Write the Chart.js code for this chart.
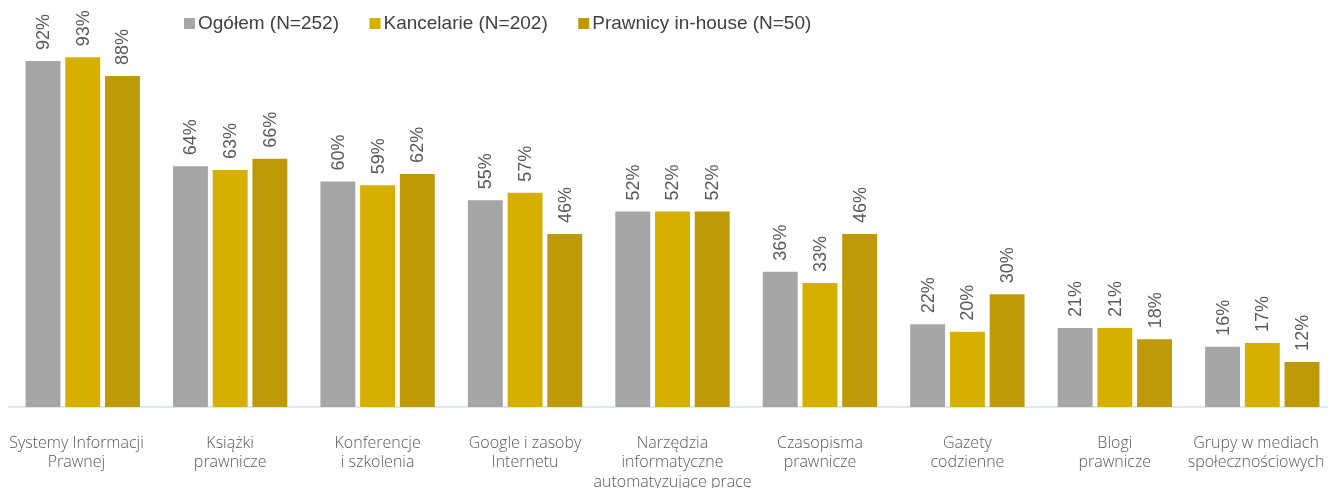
<!DOCTYPE html>
<html>
<head>
<meta charset="utf-8">
<script src="https://cdn.jsdelivr.net/npm/chart.js@4/dist/chart.umd.min.js"></script>
<style>
    html, body { margin: 0; padding: 0; overflow: hidden; background: #fff; }
    #wrap { width: 1340px; height: 488px; }
</style>
</head>
<body>
<div id="wrap"><canvas id="barChart" width="1340" height="488"></canvas></div>
<script>
const categories = [
    ['Systemy Informacji', 'Prawnej'],
    ['Książki', 'prawnicze'],
    ['Konferencje', 'i szkolenia'],
    ['Google i zasoby', 'Internetu'],
    ['Narzędzia', 'informatyczne', 'automatyzujące pracę'],
    ['Czasopisma', 'prawnicze'],
    ['Gazety', 'codzienne'],
    ['Blogi', 'prawnicze'],
    ['Grupy w mediach', 'społecznościowych']
];
const seriesNames = ['Ogółem (N=252)', 'Kancelarie (N=202)', 'Prawnicy in-house (N=50)'];
const ogolem = [92, 64, 60, 55, 52, 36, 22, 21, 16];
const kancelarie = [93, 63, 59, 57, 52, 33, 20, 21, 17];
const inhouse = [88, 66, 62, 46, 52, 46, 30, 18, 12];
const colors = ['#A6A6A6', '#D5B000', '#BF9A08'];

// value labels, rotated, above each bar
const valueLabels = {
    id: 'valueLabels',
    afterDatasetsDraw(chart) {
        const ctx = chart.ctx;
        ctx.save();
        ctx.font = '18px "Liberation Sans", Arial, sans-serif';
        ctx.fillStyle = '#595959';
        ctx.textAlign = 'left';
        ctx.textBaseline = 'middle';
        chart.data.datasets.forEach((ds, i) => {
            chart.getDatasetMeta(i).data.forEach((bar, j) => {
                ctx.save();
                ctx.translate(bar.x + 1, bar.y - 11);
                ctx.rotate(-Math.PI / 2);
                ctx.fillText(ds.data[j] + '%', 0, 0);
                ctx.restore();
            });
        });
        ctx.restore();
    }
};

// legend drawn by hand so the box/text spacing matches
const topLegend = {
    id: 'topLegend',
    afterDraw(chart) {
        const ctx = chart.ctx;
        ctx.save();
        ctx.font = '19px "Liberation Sans", Arial, sans-serif';
        ctx.textBaseline = 'middle';
        ctx.textAlign = 'left';
        let x = 184;
        chart.data.datasets.forEach(ds => {
            ctx.fillStyle = ds.backgroundColor;
            ctx.fillRect(x, 18, 11, 11);
            ctx.fillStyle = '#404040';
            ctx.fillText(ds.label, x + 14, 24);
            x += 14 + ctx.measureText(ds.label).width + 30.5;
        });
        ctx.restore();
    }
};

const ctx = document.getElementById('barChart').getContext('2d');
const barChart = new Chart(ctx, {
    type: 'bar',
    data: {
        labels: categories,
        datasets: [
            { label: seriesNames[0], data: ogolem, backgroundColor: colors[0] },
            { label: seriesNames[1], data: kancelarie, backgroundColor: colors[1] },
            { label: seriesNames[2], data: inhouse, backgroundColor: colors[2] }
        ]
    },
    options: {
        responsive: false,
        animation: false,
        categoryPercentage: 0.808,
        barPercentage: 0.88,
        layout: { padding: { left: 9, right: 4, top: 31, bottom: 0 } },
        plugins: {
            legend: { display: false },
            tooltip: { enabled: false }
        },
        scales: {
            y: {
                display: false,
                min: 0,
                max: 100
            },
            x: {
                grid: { display: false, drawTicks: false },
                border: { display: true, color: '#DCE9F4', width: 2 },
                ticks: {
                    padding: 27,
                    color: '#595959',
                    maxRotation: 0,
                    autoSkip: false,
                    font: { family: '"Open Sans", sans-serif', size: 16, weight: 300, lineHeight: 1.2 },
                    // edge labels sit a little left of their group, as in the original
                    callback(value, index) {
                        const lines = categories[index];
                        if (index === 0 || index === categories.length - 1) {
                            return lines.map(l => l + '   ');
                        }
                        return lines;
                    }
                },
                // keep the plot area fixed: axis strip 81px, no extra side padding
                afterFit(scale) {
                    scale.height = 81;
                    scale.paddingLeft = 0;
                    scale.paddingRight = 0;
                }
            }
        }
    },
    plugins: [valueLabels, topLegend]
});
</script>
</body>
</html>
